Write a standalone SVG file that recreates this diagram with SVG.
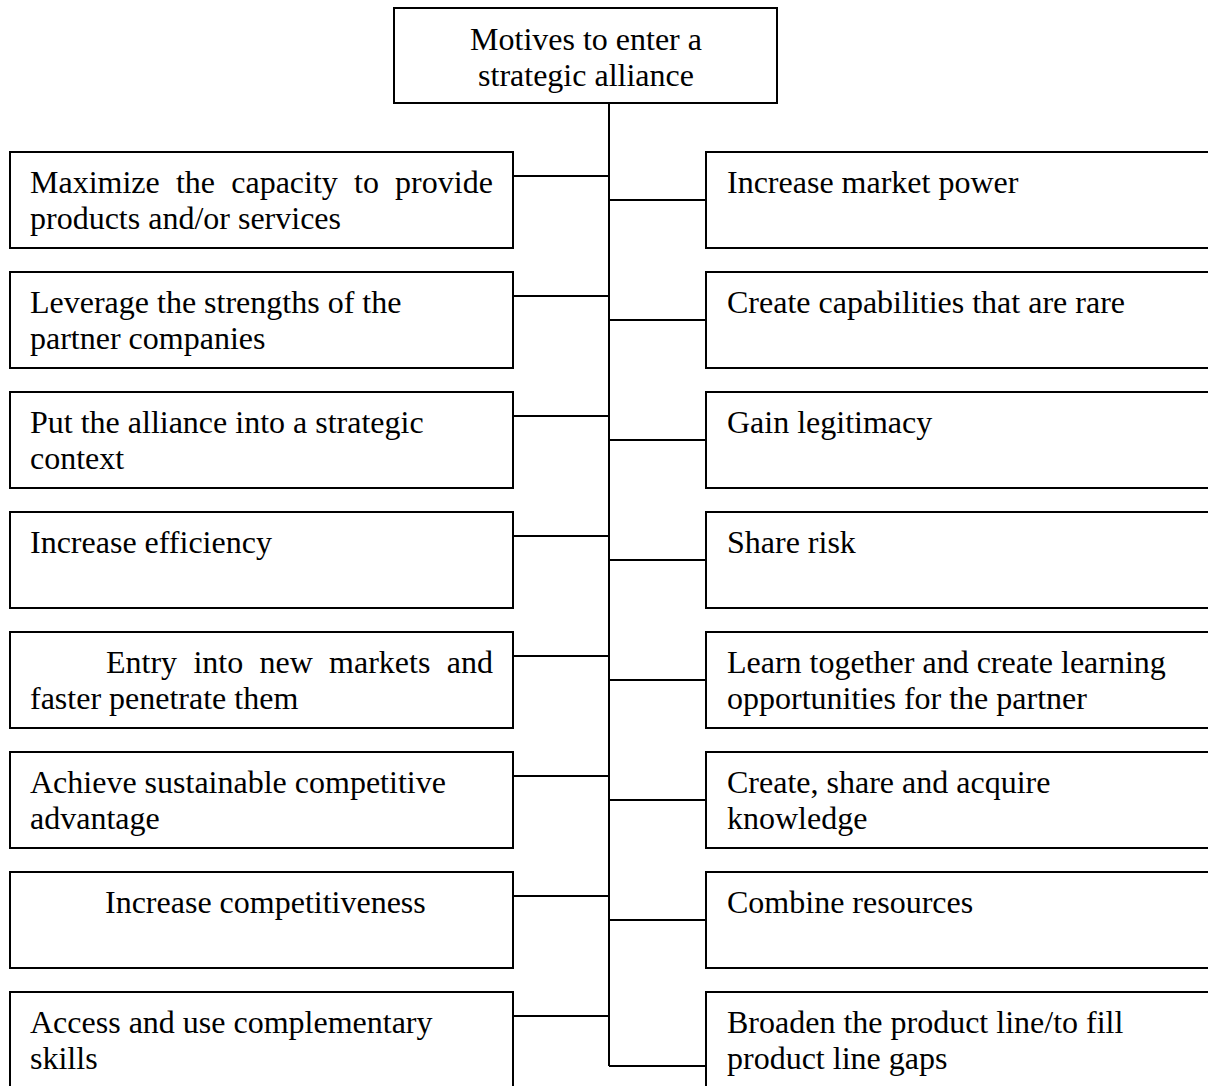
<svg xmlns="http://www.w3.org/2000/svg" width="1208" height="1086" viewBox="0 0 1208 1086">
<style>
.box{fill:#fff;stroke:#000;stroke-width:2}
.t{font-family:"Liberation Serif","Times New Roman",serif;font-size:32px;fill:#000}
.c{text-anchor:middle}
.conn line{stroke:#000;stroke-width:2}
</style>
<rect width="1208" height="1086" fill="#fff"/>
<g class="conn">
<line x1="609" y1="103" x2="609" y2="1066"/>
<line x1="513" y1="176" x2="609" y2="176"/>
<line x1="513" y1="296" x2="609" y2="296"/>
<line x1="513" y1="416" x2="609" y2="416"/>
<line x1="513" y1="536" x2="609" y2="536"/>
<line x1="513" y1="656" x2="609" y2="656"/>
<line x1="513" y1="776" x2="609" y2="776"/>
<line x1="513" y1="896" x2="609" y2="896"/>
<line x1="513" y1="1016" x2="609" y2="1016"/>
<line x1="609" y1="200" x2="706" y2="200"/>
<line x1="609" y1="320" x2="706" y2="320"/>
<line x1="609" y1="440" x2="706" y2="440"/>
<line x1="609" y1="560" x2="706" y2="560"/>
<line x1="609" y1="680" x2="706" y2="680"/>
<line x1="609" y1="800" x2="706" y2="800"/>
<line x1="609" y1="920" x2="706" y2="920"/>
<line x1="609" y1="1066" x2="706" y2="1066"/>
</g>
<g id="root"><rect class="box" x="394" y="8" width="383" height="95"/>
<text class="t c" x="586" y="50">Motives to enter a</text>
<text class="t c" x="586" y="86">strategic alliance</text></g>

<g id="L1"><rect class="box" x="10" y="152" width="503" height="96"/>
<text class="t" x="30" y="193" word-spacing="8.2">Maximize the capacity to provide</text>
<text class="t" x="30" y="229">products and/or services</text></g>
<g id="L2"><rect class="box" x="10" y="272" width="503" height="96"/>
<text class="t" x="30" y="313">Leverage the strengths of the</text>
<text class="t" x="30" y="349">partner companies</text></g>
<g id="L3"><rect class="box" x="10" y="392" width="503" height="96"/>
<text class="t" x="30" y="433">Put the alliance into a strategic</text>
<text class="t" x="30" y="469">context</text></g>
<g id="L4"><rect class="box" x="10" y="512" width="503" height="96"/>
<text class="t" x="30" y="553">Increase efficiency</text></g>
<g id="L5"><rect class="box" x="10" y="632" width="503" height="96"/>
<text class="t" x="106" y="673" word-spacing="8.3">Entry into new markets and</text>
<text class="t" x="30" y="709">faster penetrate them</text></g>
<g id="L6"><rect class="box" x="10" y="752" width="503" height="96"/>
<text class="t" x="30" y="793">Achieve sustainable competitive</text>
<text class="t" x="30" y="829">advantage</text></g>
<g id="L7"><rect class="box" x="10" y="872" width="503" height="96"/>
<text class="t" x="105" y="913">Increase competitiveness</text></g>
<g id="L8"><rect class="box" x="10" y="992" width="503" height="96"/>
<text class="t" x="30" y="1033">Access and use complementary</text>
<text class="t" x="30" y="1069">skills</text></g>

<g id="R1"><rect class="box" x="706" y="152" width="512" height="96"/>
<text class="t" x="727" y="193">Increase market power</text></g>
<g id="R2"><rect class="box" x="706" y="272" width="512" height="96"/>
<text class="t" x="727" y="313">Create capabilities that are rare</text></g>
<g id="R3"><rect class="box" x="706" y="392" width="512" height="96"/>
<text class="t" x="727" y="433">Gain legitimacy</text></g>
<g id="R4"><rect class="box" x="706" y="512" width="512" height="96"/>
<text class="t" x="727" y="553">Share risk</text></g>
<g id="R5"><rect class="box" x="706" y="632" width="512" height="96"/>
<text class="t" x="727" y="673">Learn together and create learning</text>
<text class="t" x="727" y="709">opportunities for the partner</text></g>
<g id="R6"><rect class="box" x="706" y="752" width="512" height="96"/>
<text class="t" x="727" y="793">Create, share and acquire</text>
<text class="t" x="727" y="829">knowledge</text></g>
<g id="R7"><rect class="box" x="706" y="872" width="512" height="96"/>
<text class="t" x="727" y="913">Combine resources</text></g>
<g id="R8"><rect class="box" x="706" y="992" width="512" height="96"/>
<text class="t" x="727" y="1033">Broaden the product line/to fill</text>
<text class="t" x="727" y="1069">product line gaps</text></g>
</svg>
